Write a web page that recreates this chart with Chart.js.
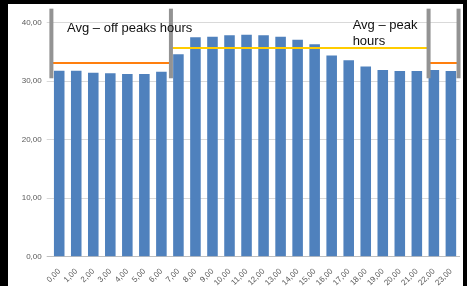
<!DOCTYPE html>
<html>
<head>
<meta charset="utf-8">
<script src="https://cdn.jsdelivr.net/npm/chart.js@4/dist/chart.umd.min.js"></script>
<style>
    html, body { margin: 0; padding: 0; background: #000; }
    #wrap { position: absolute; left: 8px; top: 4px; width: 455px; height: 282px; background: #fff; }
</style>
</head>
<body>
<div id="wrap"><canvas id="chart" width="455" height="282"></canvas></div>
<script>
// Hourly values
const hours = ['0,00', '1,00', '2,00', '3,00', '4,00', '5,00', '6,00', '7,00', '8,00', '9,00', '10,00', '11,00',
    '12,00', '13,00', '14,00', '15,00', '16,00', '17,00', '18,00', '19,00', '20,00', '21,00', '22,00', '23,00'];
const values = [31.8, 31.8, 31.45, 31.35, 31.25, 31.25, 31.6, 34.6, 37.5, 37.6, 37.85, 37.95,
    37.85, 37.6, 37.1, 36.3, 34.4, 33.6, 32.5, 31.9, 31.75, 31.75, 31.9, 31.75];
const yTicks = [0, 10, 20, 30, 40];

// Averages and the hour boundaries (in category units) of the marked periods
const offPeakAvg = 33.1;
const peakAvg = 35.6;
const separators = [-0.46, 6.56, 21.69, 23.45];
const separatorRange = [30.5, 42.4];

const fmt = v => v.toFixed(2).replace('.', ',');

// draws the separators, average lines and labels using the chart's scales
const periodPlugin = {
    id: 'periods',
    afterDatasetsDraw(chart) {
        const { ctx, scales: { x, y } } = chart;
        const p0 = x.getPixelForValue(0);
        const pitch = x.getPixelForValue(1) - p0;
        const xAt = v => p0 + v * pitch;

        ctx.save();
        // average lines
        ctx.lineWidth = 2;
        const segs = [
            [separators[0], separators[1], offPeakAvg, '#ff7f0e'],
            [separators[1], separators[2], peakAvg, '#ffcc00'],
            [separators[2], separators[3], offPeakAvg, '#ff7f0e']
        ];
        segs.forEach(([a, b, v, c]) => {
            ctx.strokeStyle = c;
            ctx.beginPath();
            ctx.moveTo(xAt(a), Math.round(y.getPixelForValue(v)));
            ctx.lineTo(xAt(b), Math.round(y.getPixelForValue(v)));
            ctx.stroke();
        });

        // gray separators
        ctx.fillStyle = '#939393';
        const top = y.getPixelForValue(separatorRange[1]);
        const bottom = y.getPixelForValue(separatorRange[0]);
        separators.forEach(s => {
            ctx.fillRect(xAt(s) - 2, top, 4, bottom - top);
        });

        // labels
        ctx.fillStyle = '#111';
        ctx.font = '13px "Liberation Sans", Arial, sans-serif';
        ctx.textBaseline = 'alphabetic';
        ctx.textAlign = 'left';
        ctx.fillText('Avg – off peaks hours', xAt(0.46), y.getPixelForValue(38.46));
        ctx.fillText('Avg – peak', xAt(17.23), y.getPixelForValue(38.87));
        ctx.fillText('hours', xAt(17.23), y.getPixelForValue(38.87) + 16);
        ctx.restore();
    }
};

const ctx = document.getElementById('chart').getContext('2d');
const chart = new Chart(ctx, {
    type: 'bar',
    data: {
        labels: hours,
        datasets: [{
            data: values,
            backgroundColor: '#4f81bd',
            borderWidth: 0,
            categoryPercentage: 1,
            barPercentage: 0.62
        }]
    },
    options: {
        responsive: false,
        animation: false,
        layout: { padding: { left: 0, right: 3.6, top: 18.7, bottom: 0 } },
        plugins: {
            legend: { display: false },
            tooltip: { enabled: false }
        },
        scales: {
            x: {
                grid: { display: false },
                border: { display: true, color: '#bfbfbf', width: 1 },
                ticks: {
                    color: '#595959',
                    font: { family: '"Liberation Sans", Arial, sans-serif', size: 8 },
                    minRotation: 45,
                    maxRotation: 45,
                    autoSkip: false,
                    padding: 2
                },
                afterFit(scale) { scale.height = 29.3; }
            },
            y: {
                min: 0,
                max: 40,
                afterBuildTicks(scale) { scale.ticks = yTicks.map(v => ({ value: v })); },
                grid: {
                    color: ctx => ctx.tick && ctx.tick.value === 0 ? '#bfbfbf' : '#d9d9d9',
                    tickLength: 4
                },
                border: { display: false },
                ticks: {
                    color: '#595959',
                    font: { family: '"Liberation Sans", Arial, sans-serif', size: 8 },
                    padding: 5,
                    callback: v => fmt(v)
                },
                afterFit(scale) { scale.width = 42.7; }
            }
        }
    },
    plugins: [periodPlugin]
});
</script>
</body>
</html>
